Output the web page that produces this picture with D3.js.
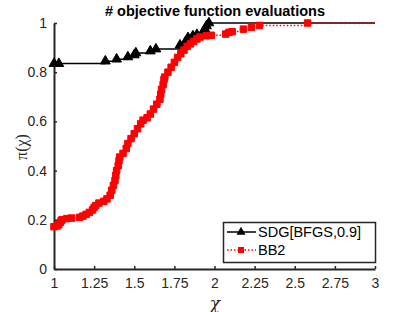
<!DOCTYPE html>
<html><head><meta charset="utf-8">
<script src="https://cdn.jsdelivr.net/npm/d3@7"></script>
<style>body{margin:0;background:#fff}svg{display:block}</style>
</head><body>
<div id="chart"></div>
<script>
const title = "# objective function evaluations";
const xTicks = [1, 1.25, 1.5, 1.75, 2, 2.25, 2.5, 2.75, 3];
const xTickLabels = ["1","1.25","1.5","1.75","2","2.25","2.5","2.75","3"];
const yTicks = [0, 0.2, 0.4, 0.6, 0.8, 1];
const yTickLabels = ["0","0.2","0.4","0.6","0.8","1"];
const seriesNames = ["SDG[BFGS,0.9]", "BB2"];
const xMax = 3;

const sdgChi = [1.00,1.03,1.32,1.39,1.46,1.50,1.51,1.60,1.635,1.785,1.82,1.835,1.865,1.89,1.93,1.94,1.95,1.965];
const sdgPi  = [0.835,0.835,0.845,0.853,0.862,0.87,0.878,0.886,0.894,0.91,0.925,0.94,0.947,0.953,0.965,0.975,0.988,1.0];

const bbChi = [1.00,1.02,1.03,1.04,1.045,1.05,1.08,1.11,1.16,1.18,1.20,1.22,1.24,1.25,1.26,1.28,1.31,1.33,1.35,1.36,1.37,1.38,1.385,1.39,1.40,1.405,1.41,1.43,1.45,1.46,1.48,1.50,1.52,1.54,1.555,1.58,1.60,1.62,1.64,1.66,1.665,1.67,1.68,1.685,1.69,1.71,1.73,1.75,1.77,1.79,1.81,1.83,1.85,1.87,1.89,1.91,1.95,1.98,2.07,2.09,2.11,2.18,2.23,2.28,2.58];
const bbPi  = [0.172,0.175,0.18,0.19,0.197,0.2,0.205,0.207,0.21,0.215,0.222,0.23,0.24,0.25,0.258,0.268,0.275,0.285,0.3,0.32,0.34,0.36,0.38,0.40,0.42,0.44,0.455,0.47,0.49,0.51,0.53,0.55,0.57,0.59,0.605,0.615,0.63,0.65,0.67,0.69,0.71,0.73,0.75,0.77,0.78,0.80,0.82,0.84,0.86,0.875,0.89,0.905,0.915,0.925,0.935,0.943,0.948,0.95,0.955,0.962,0.965,0.975,0.983,0.99,1.0];

const W = 415, H = 312;
const m = {left: 54, right: 40, top: 23, bottom: 43};
const svg = d3.select("#chart").append("svg").attr("width", W).attr("height", H);
const x = d3.scaleLinear().domain([1, 3]).range([m.left, W - m.right]);
const y = d3.scaleLinear().domain([0, 1]).range([H - m.bottom, m.top]);
const font = "'Liberation Sans', Arial, sans-serif";
const txt = "#262626";

// axes
const xAxis = d3.axisBottom(x).tickValues(xTicks).tickFormat((d,i)=>xTickLabels[i]).tickSizeInner(-3).tickSizeOuter(0).tickPadding(9);
const yAxis = d3.axisLeft(y).tickValues(yTicks).tickFormat((d,i)=>yTickLabels[i]).tickSizeInner(-3).tickSizeOuter(0).tickPadding(7);
const gx = svg.append("g").attr("transform", `translate(0,${H - m.bottom})`).call(xAxis);
const gy = svg.append("g").attr("transform", `translate(${m.left},0)`).call(yAxis);
[gx, gy].forEach(g => {
  g.select(".domain").attr("stroke", txt).attr("stroke-width", 2);
  g.selectAll(".tick line").attr("stroke", txt).attr("stroke-width", 1.5);
  g.selectAll(".tick text").attr("fill", txt).attr("font-family", font).attr("font-size", 14);
});

function draw(chi, pi, opts) {
  const pts = chi.map((c, i) => [c, pi[i]]);
  const linePts = pts.concat([[xMax, pi[pi.length - 1]]]);
  const line = d3.line().x(d => x(d[0])).y(d => y(d[1])).curve(d3.curveStepAfter);
  svg.append("path").attr("d", line(linePts)).attr("fill", "none")
    .attr("stroke", opts.color).attr("stroke-width", opts.width)
    .attr("stroke-dasharray", opts.dash || null);
  const sym = d3.symbol().type(opts.symbol).size(opts.size);
  svg.append("g").selectAll("path").data(pts).join("path")
    .attr("d", sym).attr("transform", d => `translate(${x(d[0])},${y(d[1])})`)
    .attr("fill", opts.color).attr("stroke", opts.color).attr("stroke-width", 1);
}
draw(sdgChi, sdgPi, {color: "#000", width: 1.5, symbol: d3.symbolTriangle, size: 42});
draw(bbChi, bbPi, {color: "#ff0000", width: 1.5, dash: "1.5,2", symbol: d3.symbolSquare, size: 42});

// title & labels
svg.append("text").attr("x", 215).attr("y", 16).attr("text-anchor", "middle")
  .attr("font-family", font).attr("font-weight", "bold").attr("font-size", 14.5).attr("fill", "#000").text(title);
svg.append("text").attr("x", 215).attr("y", 309).attr("text-anchor", "middle")
  .attr("font-family", "'DejaVu Serif', 'Liberation Serif', serif").attr("font-style", "italic").attr("font-size", 17).attr("fill", txt).text("χ");
svg.append("text").attr("transform", "translate(27,147) rotate(-90)").attr("text-anchor", "middle")
  .attr("font-family", "'Liberation Serif', serif").attr("font-size", 16).attr("fill", txt).text("π(χ)");

// legend
const lg = svg.append("g");
lg.append("rect").attr("x", 223.5).attr("y", 222.5).attr("width", 152).attr("height", 40)
  .attr("fill", "#fff").attr("stroke", txt).attr("stroke-width", 1.5);
const legendItems = [
  {name: seriesNames[0], color: "#000", dash: null, symbol: d3.symbolTriangle},
  {name: seriesNames[1], color: "#ff0000", dash: "1.5,2", symbol: d3.symbolSquare}
];
legendItems.forEach((it, i) => {
  const yy = 232 + i * 18;
  lg.append("line").attr("x1", 227).attr("x2", 256).attr("y1", yy).attr("y2", yy)
    .attr("stroke", it.color).attr("stroke-width", 1.5).attr("stroke-dasharray", it.dash);
  lg.append("path").attr("d", d3.symbol().type(it.symbol).size(36)).attr("transform", `translate(241,${yy})`)
    .attr("fill", it.color);
  lg.append("text").attr("x", 258).attr("y", yy + 5).attr("font-family", font).attr("font-size", 14.5)
    .attr("fill", "#000").text(it.name);
});
</script>
</body></html>
